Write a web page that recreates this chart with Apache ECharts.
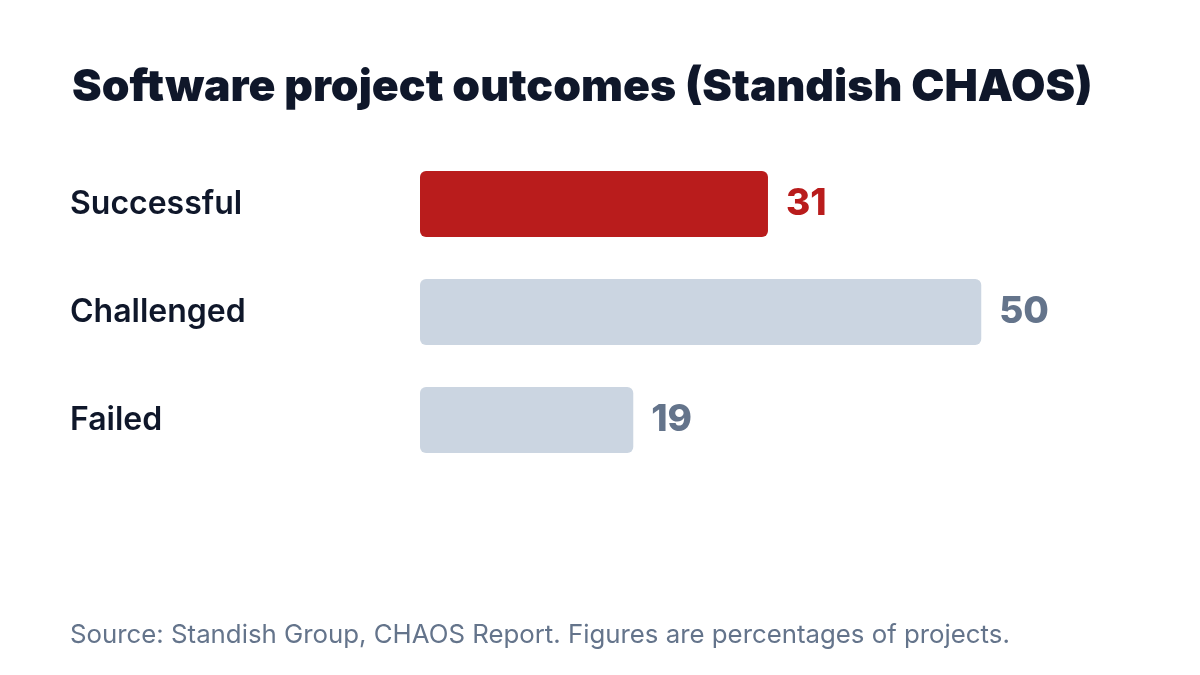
<!DOCTYPE html>
<html>
<head>
<meta charset="utf-8">
<script src="https://cdn.jsdelivr.net/npm/echarts@6/dist/echarts.min.js"></script>
<style>html,body{margin:0;padding:0;background:#fff}#chart{width:1200px;height:675px}</style>
</head>
<body>
<div id="chart"></div>
<script>
const categories = ['Successful', 'Challenged', 'Failed'];
const values = [31, 50, 19];
const highlight = 'Successful';

const chart = echarts.init(document.getElementById('chart'));
const font = 'Inter, "Noto Sans", sans-serif';

chart.setOption({
  backgroundColor: '#ffffff',
  title: {
    text: 'Software project outcomes (Standish CHAOS)',
    left: 67, top: 60,
    textStyle: { fontFamily: font, fontSize: 44.5, fontWeight: 900, color: '#0f172a' }
  },
  graphic: [{
    type: 'text', left: 70, top: 622,
    style: { text: 'Source: Standish Group, CHAOS Report. Figures are percentages of projects.',
      font: '25.8px ' + font, fill: '#64748b' }
  }],
  grid: { left: 420, width: 673.5, top: 150, height: 324 },
  xAxis: { type: 'value', min: 0, max: 60, show: false },
  yAxis: {
    type: 'category', data: categories, inverse: true,
    axisLine: { show: false }, axisTick: { show: false },
    axisLabel: { align: 'left', margin: 350, fontFamily: font, fontSize: 32, fontWeight: 600, color: '#0f172a' }
  },
  series: [{
    type: 'bar', barWidth: 66, silent: true,
    data: values.map((v, i) => {
      const hot = categories[i] === highlight;
      return {
        value: v,
        itemStyle: { color: hot ? '#b91c1c' : '#cbd5e1', borderRadius: 6 },
        label: { color: hot ? '#b91c1c' : '#64748b' }
      };
    }),
    label: { show: true, position: 'right', distance: 18, fontFamily: font, fontSize: 37, fontWeight: 800 }
  }]
});
</script>
</body>
</html>
